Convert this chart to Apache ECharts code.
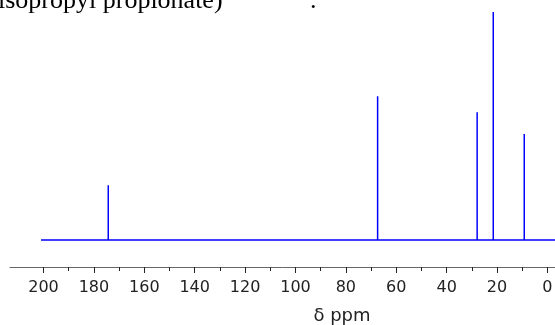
<!DOCTYPE html>
<html>
<head>
<meta charset="utf-8">
<script src="https://cdn.jsdelivr.net/npm/echarts@6/dist/echarts.min.js"></script>
<style>
  html, body { margin: 0; padding: 0; background: #fff; }
  #chart { width: 555px; height: 325px; }
</style>
</head>
<body>
<div id="chart"></div>
<script>
// 13C NMR peaks of isopropyl propionate (chemical shift in ppm, relative height)
const peakShifts = [174.3, 67.4, 27.9, 21.5, 9.2];
const peakHeights = [24, 63, 56, 100, 46.5];
const baselineStart = 201;
const baselineEnd = -3;
const majorTicks = [0, 20, 40, 60, 80, 100, 120, 140, 160, 180, 200];
const minorTicks = [10, 30, 50, 70, 90, 110, 130, 150, 170, 190];

// walk along the baseline, going up and down at each peak
const spectrum = [[baselineStart, 0]];
peakShifts.forEach((s, i) => {
  spectrum.push([s, 0], [s, peakHeights[i]], [s, 0]);
});
spectrum.push([baselineEnd, 0]);

const chart = echarts.init(document.getElementById("chart"));
const axisFont = "DejaVu Sans";
const gridBox = { left: 10, right: 0, top: 12, bottom: 58, outerBoundsMode: "none", containLabel: false };
chart.setOption({
  animation: false,
  grid: [gridBox, gridBox],
  xAxis: [
    {
      type: "value",
      gridIndex: 0,
      inverse: true,
      min: -3,
      max: 213.3,
      splitLine: { show: false },
      axisLine: { onZero: false, lineStyle: { color: "#666", width: 1 } },
      axisTick: { customValues: majorTicks, length: 6, lineStyle: { color: "#222" } },
      axisLabel: {
        customValues: majorTicks,
        color: "#222",
        fontFamily: axisFont,
        fontSize: 16,
        margin: 13,
      },
      name: "δ ppm",
      nameLocation: "middle",
      nameGap: 40,
      nameTextStyle: { color: "#222", fontFamily: axisFont, fontSize: 18, padding: [0, 0, 0, 119] },
    },
    {
      type: "value",
      gridIndex: 1,
      inverse: true,
      min: -3,
      max: 213.3,
      splitLine: { show: false },
      axisLine: { show: false, onZero: false },
      axisTick: { customValues: minorTicks, length: 4, lineStyle: { color: "#222" } },
      axisLabel: { show: false },
    },
  ],
  yAxis: [
    { type: "value", gridIndex: 0, min: -11.84, max: 100, show: false },
    { type: "value", gridIndex: 1, min: 0, max: 1, show: false },
  ],
  graphic: [
    {
      type: "text",
      left: -2,
      top: -12,
      style: { text: "isopropyl propionate)", font: "26px 'Liberation Serif'", fill: "#000" },
    },
    {
      type: "text",
      left: 310,
      top: -12,
      style: { text: ".", font: "26px 'Liberation Serif'", fill: "#000" },
    },
  ],
  series: [
    {
      type: "line",
      xAxisIndex: 0,
      yAxisIndex: 0,
      data: spectrum,
      symbol: "none",
      lineStyle: { color: "#0000ff", width: 1.5 },
    },
  ],
});
</script>
</body>
</html>
